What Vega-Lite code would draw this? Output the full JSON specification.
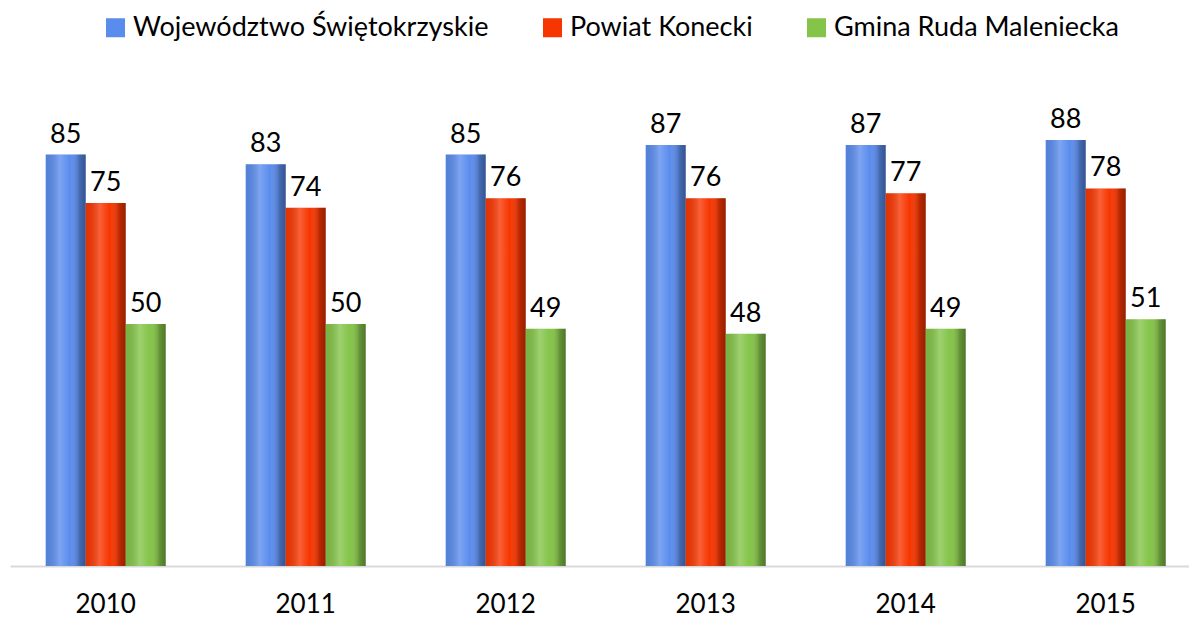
{
  "$schema": "https://vega.github.io/schema/vega-lite/v6.json",
  "width": 1179,
  "height": 484,
  "autosize": "none",
  "padding": {"left": 10, "top": 82, "right": 0, "bottom": 52},
  "background": "white",
  "data": {
    "values": [
      {"year": "2010", "series": "Województwo Świętokrzyskie", "value": 85},
      {"year": "2010", "series": "Powiat Konecki", "value": 75},
      {"year": "2010", "series": "Gmina Ruda Maleniecka", "value": 50},
      {"year": "2011", "series": "Województwo Świętokrzyskie", "value": 83},
      {"year": "2011", "series": "Powiat Konecki", "value": 74},
      {"year": "2011", "series": "Gmina Ruda Maleniecka", "value": 50},
      {"year": "2012", "series": "Województwo Świętokrzyskie", "value": 85},
      {"year": "2012", "series": "Powiat Konecki", "value": 76},
      {"year": "2012", "series": "Gmina Ruda Maleniecka", "value": 49},
      {"year": "2013", "series": "Województwo Świętokrzyskie", "value": 87},
      {"year": "2013", "series": "Powiat Konecki", "value": 76},
      {"year": "2013", "series": "Gmina Ruda Maleniecka", "value": 48},
      {"year": "2014", "series": "Województwo Świętokrzyskie", "value": 87},
      {"year": "2014", "series": "Powiat Konecki", "value": 77},
      {"year": "2014", "series": "Gmina Ruda Maleniecka", "value": 49},
      {"year": "2015", "series": "Województwo Świętokrzyskie", "value": 88},
      {"year": "2015", "series": "Powiat Konecki", "value": 78},
      {"year": "2015", "series": "Gmina Ruda Maleniecka", "value": 51}
    ]
  },
  "encoding": {
    "x": {
      "field": "year",
      "type": "nominal",
      "scale": {"paddingInner": 0.4, "paddingOuter": 0.1475, "align": 0.605},
      "axis": {
        "title": null,
        "labelAngle": 0,
        "ticks": false,
        "domainColor": "#d9d9d9",
        "domainWidth": 2,
        "labelFont": "Lato",
        "labelFontSize": 26,
        "labelColor": "#000000",
        "labelPadding": 25
      }
    },
    "xOffset": {
      "field": "series",
      "type": "nominal",
      "scale": {"domain": ["Województwo Świętokrzyskie", "Powiat Konecki", "Gmina Ruda Maleniecka"]}
    },
    "y": {
      "field": "value",
      "type": "quantitative",
      "scale": {"domain": [0, 100]},
      "axis": null
    }
  },
  "layer": [
    {
      "mark": {"type": "bar"},
      "encoding": {
        "color": {
          "field": "series",
          "type": "nominal",
          "scale": {
            "domain": ["Województwo Świętokrzyskie", "Powiat Konecki", "Gmina Ruda Maleniecka"],
            "range": ["#5a8ced", "#f73500", "#84c448"]
          },
          "legend": {
            "title": null,
            "orient": "none",
            "direction": "horizontal",
            "legendX": 92,
            "legendY": -68,
            "symbolType": "square",
            "symbolSize": 361,
            "symbolStrokeWidth": 0,
            "symbolOpacity": 1,
            "labelFont": "Lato",
            "labelFontSize": 27,
            "labelColor": "#000000",
            "labelOffset": 4,
            "labelLimit": 500,
            "columnPadding": 50
          }
        }
      }
    },
    {
      "mark": {
        "type": "bar",
        "color": {
          "gradient": "linear",
          "x1": 0, "y1": 0, "x2": 1, "y2": 0,
          "stops": [
            {"offset": 0, "color": "rgba(0,0,0,0.08)"},
            {"offset": 0.35, "color": "rgba(255,255,255,0.22)"},
            {"offset": 0.6, "color": "rgba(255,255,255,0.0)"},
            {"offset": 0.85, "color": "rgba(0,0,0,0.25)"},
            {"offset": 1, "color": "rgba(0,0,0,0.4)"}
          ]
        }
      }
    },
    {
      "mark": {"type": "text", "baseline": "bottom", "dy": -6, "font": "Lato", "fontSize": 27, "color": "#000000"},
      "encoding": {"text": {"field": "value", "type": "quantitative"}}
    }
  ],
  "config": {"view": {"stroke": null}}
}
